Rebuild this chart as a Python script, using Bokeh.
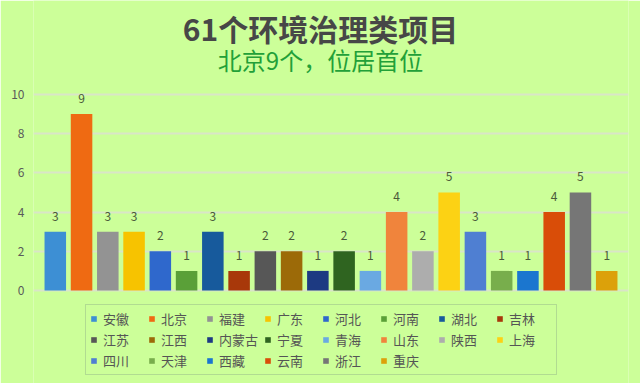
from bokeh.plotting import figure
from bokeh.models import (FactorRange, Range1d, Legend, LegendItem, Label,
                          ColumnDataSource, FixedTicker)
from bokeh.core.properties import value
from bokeh.embed import file_html
from bokeh.resources import INLINE

provinces = ["安徽", "北京", "福建", "广东", "河北", "河南", "湖北", "吉林",
             "江苏", "江西", "内蒙古", "宁夏", "青海", "山东", "陕西", "上海",
             "四川", "天津", "西藏", "云南", "浙江", "重庆"]
counts = [3, 9, 3, 3, 2, 1, 3, 1, 2, 2, 1, 2, 1, 4, 2, 5, 3, 1, 1, 4, 5, 1]
colors = ["#3d8fd4", "#ef6a12", "#939393", "#f7c300", "#2f68cc", "#5aa038",
          "#175a9c", "#a8380a", "#575757", "#9c6a08", "#1d3a82", "#2f6420",
          "#6aa9e2", "#f0843c", "#adadad", "#fcd214", "#4f7fd2", "#78ae4c",
          "#1b76cf", "#d94d08", "#767676", "#dca10a"]
y_ticks = [0, 2, 4, 6, 8, 10]

title_text = "61个环境治理类项目"
subtitle_text = "北京9个，位居首位"

BG = "#ccff99"
FONT = "Noto Sans CJK SC"

p = figure(width=640, height=383, output_backend="svg", toolbar_location=None,
           x_range=FactorRange(factors=provinces, range_padding=0.03),
           y_range=Range1d(-4.745, 14.796), title=None,
           background_fill_color=BG, border_fill_color=BG,
           min_border_left=33, min_border_right=12, min_border_top=0,
           min_border_bottom=0, outline_line_color=None)

src = ColumnDataSource(dict(prov=provinces, cnt=counts, col=colors,
                            lab=[str(c) for c in counts]))

r = p.vbar(x="prov", top="cnt", width=0.82, bottom=0, source=src,
           fill_color="col", line_color=None)

p.text(x="prov", y="cnt", text="lab", source=src, y_offset=-11,
       text_align="center", text_baseline="bottom", text_font=value(FONT),
       text_font_size="12px", text_color="#4a5a3a")

p.xaxis.visible = False
p.xgrid.grid_line_color = None
p.ygrid.grid_line_color = "#d9e5c8"
p.ygrid.grid_line_width = 2
p.yaxis.ticker = FixedTicker(ticks=y_ticks)
p.yaxis.axis_line_color = None
p.yaxis.major_tick_line_color = None
p.yaxis.minor_tick_line_color = None
p.yaxis.major_tick_out = 0
p.yaxis.major_tick_in = 0
p.yaxis.major_label_text_font = FONT
p.yaxis.major_label_text_font_size = "12px"
p.yaxis.major_label_text_color = "#5a5a5a"
p.yaxis.major_label_standoff = 9

items = [LegendItem(label=prov, renderers=[r], index=i)
         for i, prov in enumerate(provinces)]
legend = Legend(items=items, orientation="horizontal", ncols=8,
                location=(52, 8),
                glyph_width=7, glyph_height=7, label_standoff=6,
                label_width=43, label_height=17, spacing=2, padding=4,
                margin=0,
                label_text_font=FONT, label_text_font_size="13px",
                label_text_color="#555555",
                background_fill_color=BG, background_fill_alpha=1,
                border_line_color="#95b98a", border_line_width=1)
p.add_layout(legend, "center")

center_x = len(provinces) / 2
p.add_layout(Label(x=center_x, y=13.393, x_offset=-10.5, text=title_text,
                   text_align="center", text_baseline="middle",
                   text_font=FONT, text_font_size="30px",
                   text_font_style="bold", text_color="#474747"))
p.add_layout(Label(x=center_x, y=11.786, x_offset=-10.5, text=subtitle_text,
                   text_align="center", text_baseline="middle",
                   text_font=FONT, text_font_size="24px",
                   text_font_style="normal", text_color="#22a038"))

open("out.html", "w").write(file_html(p, INLINE))
